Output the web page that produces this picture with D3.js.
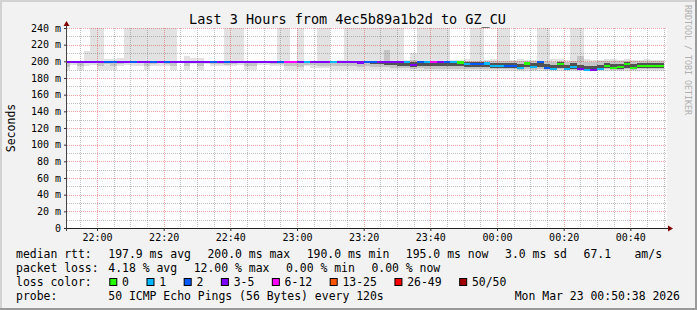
<!DOCTYPE html>
<html>
<head>
<meta charset="utf-8">
<title>Last 3 Hours from 4ec5b89a1b2d to GZ_CU</title>
<script src="https://d3js.org/d3.v7.min.js"></script>
<style>
  body { margin: 0; background: #f2f2f2; }
  svg { display: block; }
  text { font-family: "DejaVu Sans Mono", monospace; }
</style>
</head>
<body>
<div id="chart"></div>
<script>
// smokeping target: 50 pings every 120 s -> one value per 2 minute step
const firstStep = new Date(2026, 2, 22, 21, 50);
const chartStart = new Date(2026, 2, 22, 21, 51);
const chartEnd = new Date(2026, 2, 23, 0, 51);
const stepMinutes = 2;

// median rtt per step (ms)
const medianMs = [
  200, 200, 200, 200, 200, 200, 200, 200, 200, 200,
  200, 200, 200, 200, 200, 200, 200, 200, 200, 200,
  200, 200, 200, 200, 200, 200, 200, 200, 200, 200,
  200, 200, 200, 200, 200, 200, 200, 200, 200, 200,
  200, 200, 200, 200, 199, 200, 200, 200, 200, 200,
  200, 200, 196, 200, 200, 200, 200, 200, 200, 199,
  197, 197.5, 197.5, 198, 195, 195, 195, 195, 192.5, 198,
  194, 200, 192.5, 191, 197, 191, 194, 191.5, 190, 190,
  191, 195, 192.5, 193.5, 197, 192.5, 195, 195, 195, 195
];

// lost pings out of 50 per step
const lossCount = [
  3, 3, 3, 3, 3, 3, 2, 2, 3, 3,
  2, 3, 3, 2, 3, 2, 3, 3, 3, 3,
  3, 3, 2, 3, 2, 3, 3, 3, 3, 3,
  3, 3, 2, 6, 6, 3, 1, 3, 3, 3,
  1, 3, 3, 3, 3, 2, 2, 3, 3, 3,
  3, 1, 3, 2, 1, 6, 3, 2, 1, 0,
  1, 2, 2, 1, 1, 1, 2, 2, 1, 0,
  1, 2, 2, 1, 0, 1, 1, 3, 1, 3,
  1, 0, 0, 0, 0, 0, 0, 0, 0, 0
];

// smoke: spread of the ping times per step (ms), 260 = above the chart
const minMs = [
  190, 196, 190, 195, 196, 190, 190, 190, 194, 196,
  195, 195, 190, 194, 194, 194, 190, 199, 190, 197,
  190, 197, 194, 194, 194, 194, 196, 190, 190, 196,
  196, 194, 194, 190, 190, 190, 194, 192, 192, 192,
  190, 190, 190, 190, 190, 190, 190, 190, 190, 190,
  190, 190, 189, 189, 189, 189, 189, 189, 189, 189,
  189, 189, 189, 189, 189, 189, 189, 189, 189, 189,
  189, 189, 189, 189, 189, 189, 189, 189, 189, 189,
  189, 189, 189, 189, 189, 189, 189, 189, 189, 189
];
const p10Ms = [
  193, 199, 194, 198, 199, 194, 197, 195, 197, 199,
  198, 198, 194, 197, 198, 197, 194, 200, 194, 199,
  195, 199, 197, 197, 196, 197, 199, 194, 195, 198,
  198, 197, 197, 194, 194, 193, 196, 196, 195, 195,
  194, 194, 194, 194, 193, 194, 193, 193, 193, 192,
  192, 192, 191, 192, 191, 191, 191, 191, 191, 191,
  191, 190.5, 190.5, 191, 190.5, 190.5, 190.5, 190.5, 190, 191,
  190, 191, 190, 190, 190.5, 190, 190, 190, 189.5, 189.5,
  189.5, 190.5, 190, 190, 190.5, 190, 190.5, 190.5, 190.5, 190.5
];
const p25Ms = [
  200, 200, 200, 200, 200, 200, 200, 200, 200, 200,
  200, 200, 200, 200, 200, 200, 200, 200, 200, 200,
  200, 200, 200, 200, 200, 200, 200, 200, 200, 200,
  200, 200, 200, 200, 200, 200, 200, 200, 200, 200,
  200, 199, 198, 198, 197, 198, 197, 197, 196, 196,
  195, 195, 193, 195, 194, 194, 194, 194, 194, 194,
  193, 193, 193, 193, 192, 192, 192, 192, 191, 193,
  192, 193, 191, 191, 192, 191, 191, 191, 190, 190,
  190, 192, 191, 191, 192, 191, 192, 192, 192, 192
];
const p75Ms = [
  200, 200, 200, 200, 200, 200, 200, 200, 200, 200,
  200, 200, 200, 200, 200, 200, 200, 200, 200, 200,
  200, 200, 200, 200, 200, 200, 200, 200, 200, 200,
  200, 200, 200, 200, 200, 200, 200, 200, 200, 200,
  200, 200, 200, 200, 200, 200, 200, 200, 200, 200,
  200, 200, 199, 200, 200, 200, 200, 200, 200, 200,
  199, 199, 199, 199, 198, 198, 198, 198, 197, 199,
  198, 200, 197, 196, 199, 196, 198, 196, 195, 195,
  196, 198, 197, 197, 199, 197, 198, 198, 198, 198
];
const p90Ms = [
  200, 200, 200, 200, 200, 200, 200, 200, 200, 200,
  200, 200, 200, 200, 200, 200, 200, 200, 200, 200,
  200, 200, 200, 200, 200, 200, 200, 200, 200, 200,
  200, 200, 200, 200, 200, 200, 200, 200, 200, 200,
  200, 200, 200, 200, 200, 200, 200, 200, 214, 200,
  200, 201, 202, 201, 201, 201, 201, 201, 201, 201,
  201, 200, 200, 201, 200, 200, 200, 200, 200, 201,
  201, 201, 200, 199, 201, 199, 200, 207, 199, 199,
  200, 201, 200, 200, 201, 200, 200, 200, 200, 200
];
const maxMs = [
  200, 200, 200, 212, 260, 260, 203, 203, 204, 260,
  260, 260, 260, 260, 260, 260, 260, 200, 207, 204,
  204, 200, 201, 200, 260, 260, 260, 200, 200, 200,
  201, 201, 260, 260, 200, 260, 201, 201, 260, 260,
  201, 202, 260, 260, 260, 260, 260, 260, 260, 260,
  260, 202, 210, 260, 260, 260, 260, 260, 202, 202,
  203, 260, 260, 202, 203, 260, 260, 202, 203, 202,
  202, 260, 260, 203, 203, 202, 260, 260, 203, 202,
  202, 203, 203, 202, 203, 202, 202, 203, 202, 202
];

const yTickValues = [0, 20, 40, 60, 80, 100, 120, 140, 160, 180, 200, 220, 240];
const lossLabels = ['0', '1', '2', '3-5', '6-12', '13-25', '26-49', '50/50'];
const lossBreaks = [1, 2, 3, 6, 13, 26, 50];

const titleText = 'Last 3 Hours from 4ec5b89a1b2d to GZ_CU';
const rttLegend = ['median rtt:  ', '197.9 ms avg  ', '200.0 ms max  ', '190.0 ms min  ',
  '195.0 ms now  ', '3.0 ms sd  ', '67.1   ', 'am/s'];
const lossLegend = ['packet loss: ', '4.18 % avg  ', '12.00 % max  ', '0.00 % min  ', '0.00 % now'];
const colorLegendLabel = 'loss color:  ';
const probeLegend = ['probe:       ', '50 ICMP Echo Pings (56 Bytes) every 120s'];
const stampText = 'Mon Mar 23 00:50:38 2026';

const width = 697;
const height = 310;
const plot = { left: 67, right: 667, top: 28, bottom: 228 };

const svg = d3.select('#chart')
  .append('svg')
  .attr('width', width)
  .attr('height', height);

// background with rrdtool style shaded frame
svg.append('rect').attr('width', width).attr('height', height).attr('fill', '#f2f2f2');
svg.append('rect').attr('width', width).attr('height', 2).attr('fill', '#d2d2d2');
svg.append('rect').attr('width', 2).attr('height', height).attr('fill', '#d2d2d2');
svg.append('rect').attr('y', height - 2).attr('width', width).attr('height', 2).attr('fill', '#9a9a9a');
svg.append('rect').attr('x', width - 2).attr('width', 2).attr('height', height).attr('fill', '#9a9a9a');

const x = d3.scaleTime().domain([chartStart, chartEnd]).range([plot.left, plot.right]);
const y = d3.scaleLinear().domain([0, 240]).range([plot.bottom, plot.top]);

const lossColor = d3.scaleThreshold()
  .domain(lossBreaks)
  .range(['#26ff00', '#00b8ff', '#0059ff', '#7e00ff', '#ff00ff', '#ff5500', '#ff0000', '#a10000']);

svg.append('rect')
  .attr('x', plot.left).attr('y', plot.top)
  .attr('width', plot.right - plot.left).attr('height', plot.bottom - plot.top)
  .attr('fill', '#fff');

svg.append('defs').append('clipPath').attr('id', 'plot-clip')
  .append('rect')
  .attr('x', plot.left).attr('y', plot.top)
  .attr('width', plot.right - plot.left).attr('height', plot.bottom - plot.top);

const steps = medianMs.map((median, i) => {
  const t0 = d3.timeMinute.offset(firstStep, i * stepMinutes);
  return {
    t0,
    t1: d3.timeMinute.offset(t0, stepMinutes),
    median,
    loss: lossCount[i],
    bands: [[minMs[i], maxMs[i]], [p10Ms[i], p90Ms[i]], [p25Ms[i], p75Ms[i]]]
  };
});

// smoke, outer bands light, inner bands dark
const smokeShades = ['#e2e2e2', '#c4c4c4', '#525252'];
const smoke = svg.append('g').attr('clip-path', 'url(#plot-clip)').attr('shape-rendering', 'crispEdges');
smokeShades.forEach((shade, b) => {
  smoke.append('g')
    .selectAll('rect')
    .data(steps.filter(d => d.bands[b][1] > d.bands[b][0]))
    .join('rect')
    .attr('x', d => x(d.t0))
    .attr('width', d => x(d.t1) - x(d.t0))
    .attr('y', d => y(d.bands[b][1]))
    .attr('height', d => y(d.bands[b][0]) - y(d.bands[b][1]))
    .attr('fill', shade);
});

// grid
const grid = svg.append('g').attr('stroke-dasharray', '1,1').attr('stroke-width', 1);
const majorTimes = d3.timeMinute.every(20).range(chartStart, chartEnd);
const minorTimes = d3.timeMinute.every(5).range(chartStart, chartEnd).filter(t => t.getMinutes() % 20 !== 0);
const minorValues = d3.range(10, 241, 20);
const majorValues = yTickValues.filter(v => v > 0);
const minorColor = 'rgba(110,110,110,0.45)';
const majorColor = 'rgba(220,40,40,0.42)';

grid.selectAll('line.vminor').data(minorTimes).join('line')
  .attr('class', 'vminor')
  .attr('x1', d => Math.round(x(d)) + 0.5).attr('x2', d => Math.round(x(d)) + 0.5)
  .attr('y1', plot.top).attr('y2', plot.bottom)
  .attr('stroke', minorColor);
grid.selectAll('line.hminor').data(minorValues).join('line')
  .attr('class', 'hminor')
  .attr('x1', plot.left).attr('x2', plot.right)
  .attr('y1', d => Math.round(y(d)) + 0.5).attr('y2', d => Math.round(y(d)) + 0.5)
  .attr('stroke', minorColor);
grid.selectAll('line.vmajor').data(majorTimes).join('line')
  .attr('class', 'vmajor')
  .attr('x1', d => Math.round(x(d)) + 0.5).attr('x2', d => Math.round(x(d)) + 0.5)
  .attr('y1', plot.top).attr('y2', plot.bottom)
  .attr('stroke', majorColor);
grid.selectAll('line.hmajor').data(majorValues).join('line')
  .attr('class', 'hmajor')
  .attr('x1', plot.left).attr('x2', plot.right)
  .attr('y1', d => Math.round(y(d)) + 0.5).attr('y2', d => Math.round(y(d)) + 0.5)
  .attr('stroke', majorColor);

// median rtt, coloured by loss
svg.append('g')
  .attr('clip-path', 'url(#plot-clip)')
  .attr('shape-rendering', 'crispEdges')
  .selectAll('rect')
  .data(steps)
  .join('rect')
  .attr('x', d => x(d.t0))
  .attr('width', d => x(d.t1) - x(d.t0))
  .attr('y', d => y(d.median) - 0.8)
  .attr('height', 2.4)
  .attr('fill', d => lossColor(d.loss));

// axes
const yAxis = d3.axisLeft(y)
  .tickValues(yTickValues)
  .tickFormat(v => v === 0 ? '0' : v + ' m')
  .tickSize(3)
  .tickPadding(3);
svg.append('g')
  .attr('transform', `translate(${plot.left},0)`)
  .attr('color', '#333')
  .call(yAxis)
  .call(g => g.select('.domain').remove())
  .call(g => g.selectAll('text').attr('font-size', 10).attr('fill', '#000'));

const xAxis = d3.axisBottom(x)
  .ticks(d3.timeMinute.every(20))
  .tickFormat(d3.timeFormat('%H:%M'))
  .tickSize(3)
  .tickPadding(3);
svg.append('g')
  .attr('transform', `translate(0,${plot.bottom})`)
  .attr('color', '#333')
  .call(xAxis)
  .call(g => g.select('.domain').remove())
  .call(g => g.selectAll('text').attr('font-size', 10).attr('fill', '#000'));

svg.append('line')
  .attr('x1', plot.left - 3).attr('x2', plot.right + 3)
  .attr('y1', plot.bottom + 0.5).attr('y2', plot.bottom + 0.5)
  .attr('stroke', '#222').attr('stroke-width', 1.2);
svg.append('line')
  .attr('x1', plot.left - 0.5).attr('x2', plot.left - 0.5)
  .attr('y1', plot.bottom + 3).attr('y2', plot.top - 4)
  .attr('stroke', '#444');
svg.append('path')
  .attr('d', `M${plot.left - 3.5},${plot.top - 2} L${plot.left + 2.5},${plot.top - 2} L${plot.left - 0.5},${plot.top - 7} Z`)
  .attr('fill', '#7f0000');
svg.append('path')
  .attr('d', `M${plot.right + 1},${plot.bottom - 2.5} L${plot.right + 1},${plot.bottom + 3.5} L${plot.right + 6},${plot.bottom + 0.5} Z`)
  .attr('fill', '#7f0000');

// titles
svg.append('text')
  .attr('x', 347.5).attr('y', 24)
  .attr('text-anchor', 'middle')
  .attr('font-size', 13.5)
  .text(titleText);

svg.append('text')
  .attr('transform', 'translate(15,128) rotate(-90)')
  .attr('text-anchor', 'middle')
  .attr('font-size', 11.5)
  .text('Seconds');

svg.append('text')
  .attr('transform', 'translate(685,5) rotate(90)')
  .attr('font-size', 8.3)
  .attr('fill', '#b0b0b0')
  .text('RRDTOOL / TOBI OETIKER');

// legend
const legend = svg.append('g').attr('font-size', 11.45).attr('fill', '#000').style('white-space', 'pre');
const probe = legend.append('text').attr('x', -200).attr('y', -200).text('0000000000');
const cw = probe.node().getComputedTextLength() / 10;
probe.remove();
const legendLeft = 16;
const itemGap = 0.4;

function legendRow(items, baseline) {
  let cx = legendLeft;
  items.forEach(s => {
    legend.append('text').attr('x', cx).attr('y', baseline).text(s.trimEnd());
    cx += (s.length + itemGap) * cw;
  });
}

legendRow(rttLegend, 258);
legendRow(lossLegend, 272);

legend.append('text').attr('x', legendLeft).attr('y', 286).text(colorLegendLabel.trimEnd());
let cx = legendLeft + (colorLegendLabel.length + itemGap) * cw;
lossLabels.forEach((label, i) => {
  legend.append('rect')
    .attr('x', cx + 1.5).attr('y', 278.5)
    .attr('width', 7).attr('height', 7)
    .attr('fill', lossColor.range()[i])
    .attr('stroke', '#000');
  legend.append('text').attr('x', cx + 2 * cw).attr('y', 286).text(label);
  cx += (label.length + 4 + itemGap) * cw;
});

legendRow(probeLegend, 300);
legend.append('text')
  .attr('x', 680).attr('y', 300)
  .attr('text-anchor', 'end')
  .text(stampText);
</script>
</body>
</html>
